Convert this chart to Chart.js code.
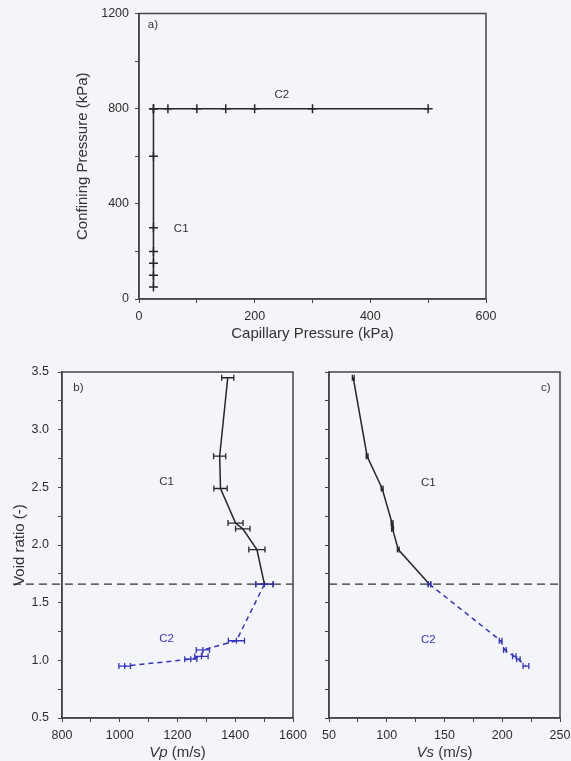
<!DOCTYPE html>
<html>
<head>
<meta charset="utf-8">
<script src="https://cdn.jsdelivr.net/npm/chart.js@4/dist/chart.umd.min.js"></script>
<style>
  html, body { margin: 0; padding: 0; background: #f3f5f9; }
  body { width: 571px; height: 761px; position: relative; overflow: hidden; }
  canvas { position: absolute; }
</style>
</head>
<body>
<canvas id="panelA" width="571" height="345" style="left:0;top:0"></canvas>
<canvas id="panelB" width="330" height="416" style="left:0;top:345px"></canvas>
<canvas id="panelC" width="300" height="416" style="left:300px;top:345px"></canvas>
<script>
// a) stress path: capillary vs confining pressure (kPa)
const capC1 = [25, 25, 25, 25, 25, 25, 25];
const confC1 = [50, 100, 150, 200, 300, 600, 800];
const capC2 = [25, 50, 100, 150, 200, 300, 500];
const confC2 = [800, 800, 800, 800, 800, 800, 800];

// b) and c) void ratio at each stage
const voidC1 = [3.45, 2.77, 2.49, 2.19, 2.14, 1.96, 1.66];
const voidC2 = [1.66, 1.17, 1.09, 1.035, 1.01, 0.95];
const voidLimit = 1.66;

// P-wave velocity (m/s) and its spread
const vpC1 = [1374, 1346, 1349, 1401, 1426, 1475, 1501];
const vpErrC1 = [21, 21, 23, 26, 25, 28, 30];
const vpC2 = [1501, 1404, 1288, 1283, 1246, 1017];
const vpErrC2 = [30, 28, 23, 23, 21, 20];

// S-wave velocity (m/s) and its spread
const vsC1 = [71, 83, 96, 104.6, 105, 110, 137];
const vsErrC1 = [0.8, 0.8, 0.8, 0.8, 0.8, 0.8, 1];
const vsC2 = [137, 198.6, 202.3, 210.4, 214, 220.5];
const vsErrC2 = [1.2, 1.2, 1.2, 1.5, 1.5, 2.5];

// labelled ticks
const capTicks = [0, 200, 400, 600];
const confTicks = [0, 400, 800, 1200];
const vpTicks = [800, 1000, 1200, 1400, 1600];
const vsTicks = [50, 100, 150, 200, 250];
const voidTicks = [0.5, 1.0, 1.5, 2.0, 2.5, 3.0, 3.5];

const BLACK = '#262626';
const BLUE = '#3434c4';
const AXIS = '#454545';
const FONT = 'Liberation Sans, Arial, sans-serif';

function pts(xs, ys) {
  return xs.map((v, i) => ({ x: v, y: ys[i] }));
}

// axis with minor ticks (unlabelled) and a fixed box size
function axis(min, max, step, labels, size, extra) {
  const isY = extra.y;
  const cfg = {
    type: 'linear',
    min: min, max: max,
    grid: { drawOnChartArea: false, drawTicks: true, tickLength: 4, color: AXIS, lineWidth: 1 },
    border: { display: true, color: AXIS, width: 1.5 },
    ticks: {
      stepSize: step,
      autoSkip: false,
      maxRotation: 0,
      padding: extra.pad,
      color: '#2e2e2e',
      font: { family: FONT, size: 12.5 },
      display: extra.showLabels !== false,
      callback: function (v) {
        const hit = labels.some(t => Math.abs(t - v) < 1e-9);
        if (!hit) return '';
        return extra.fixed ? v.toFixed(1) : String(v);
      }
    },
    afterFit: function (scale) {
      if (isY) scale.width = size; else scale.height = size;
    }
  };
  if (extra.title) {
    cfg.title = {
      display: true,
      text: extra.title,
      color: '#333',
      font: { family: FONT, size: 15 },
      padding: extra.titlePad
    };
  }
  return cfg;
}

// frame, error bars, panel notes and mixed-style titles
const extras = {
  id: 'extras',
  afterDatasetsDraw(chart, args, opts) {
    const { ctx, chartArea: a } = chart;
    const x = chart.scales.x, y = chart.scales.y;

    chart.data.datasets.forEach(ds => {
      if (!ds.xErr) return;
      ctx.save();
      ctx.strokeStyle = ds.borderColor;
      ctx.lineWidth = 1.3;
      ctx.setLineDash([]);
      ds.data.forEach((p, i) => {
        const e = ds.xErr[i];
        if (!e) return;
        const py = y.getPixelForValue(p.y);
        const x0 = x.getPixelForValue(p.x - e);
        const x1 = x.getPixelForValue(p.x + e);
        ctx.beginPath();
        ctx.moveTo(x0, py); ctx.lineTo(x1, py);
        ctx.moveTo(x0, py - 3); ctx.lineTo(x0, py + 3);
        ctx.moveTo(x1, py - 3); ctx.lineTo(x1, py + 3);
        ctx.stroke();
      });
      ctx.restore();
    });

    ctx.save();
    ctx.strokeStyle = AXIS;
    ctx.lineWidth = 1.5;
    ctx.strokeRect(a.left, a.top, a.right - a.left, a.bottom - a.top);
    ctx.restore();

    ctx.save();
    ctx.textAlign = 'center';
    ctx.textBaseline = 'middle';
    ctx.font = '11.5px ' + FONT;
    (opts.notes || []).forEach(n => {
      ctx.fillStyle = n.color || '#333';
      ctx.fillText(n.text, x.getPixelForValue(n.x), y.getPixelForValue(n.y));
    });
    if (opts.xTitle) {
      const italic = 'italic 15px ' + FONT, plain = '15px ' + FONT;
      ctx.font = italic;
      const w1 = ctx.measureText(opts.xTitle[0]).width;
      ctx.font = plain;
      const w2 = ctx.measureText(opts.xTitle[1]).width;
      const cx = (a.left + a.right) / 2;
      let sx = cx - (w1 + w2) / 2;
      ctx.textAlign = 'left';
      ctx.fillStyle = '#333';
      ctx.font = italic;
      ctx.fillText(opts.xTitle[0], sx, opts.xTitleY);
      ctx.font = plain;
      ctx.fillText(opts.xTitle[1], sx + w1, opts.xTitleY);
    }
    ctx.restore();
  }
};
Chart.register(extras);

const common = {
  responsive: false,
  animation: false,
  events: [],
  plugins: { legend: { display: false }, tooltip: { enabled: false } }
};

// ---- a) ----
new Chart(document.getElementById('panelA'), {
  type: 'scatter',
  data: {
    datasets: [
      { data: pts(capC1, confC1), showLine: true, borderColor: BLACK, borderWidth: 1.5,
        pointStyle: 'cross', pointRadius: 4.5, pointBorderWidth: 1.5, pointBorderColor: BLACK },
      { data: pts(capC2, confC2), showLine: true, borderColor: BLACK, borderWidth: 1.5,
        pointStyle: 'cross', pointRadius: 4.5, pointBorderWidth: 1.5, pointBorderColor: BLACK }
    ]
  },
  options: Object.assign({}, common, {
    layout: { padding: { left: 68, top: 12, right: 85, bottom: 0 } },
    scales: {
      x: axis(0, 600, 100, capTicks, 46, { pad: 6, title: 'Capillary Pressure (kPa)', titlePad: { top: 0, bottom: 2 } }),
      y: axis(0, 1200, 200, confTicks, 71, { y: true, pad: 6, title: 'Confining Pressure (kPa)', titlePad: { top: 6, bottom: 0 } })
    },
    plugins: Object.assign({}, common.plugins, {
      extras: { notes: [
        { text: 'a)', x: 24, y: 1151 },
        { text: 'C2', x: 247, y: 857 },
        { text: 'C1', x: 73, y: 297 }
      ] }
    })
  })
});

// ---- b) ----
new Chart(document.getElementById('panelB'), {
  type: 'scatter',
  data: {
    datasets: [
      { data: [{ x: 630, y: voidLimit }, { x: 1600, y: voidLimit }], showLine: true, clip: false,
        borderColor: '#333', borderWidth: 1.3, borderDash: [8, 5], pointRadius: 0 },
      { data: pts(vpC1, voidC1), xErr: vpErrC1, showLine: true, borderColor: BLACK, borderWidth: 1.5, pointRadius: 0 },
      { data: pts(vpC2, voidC2), xErr: vpErrC2, showLine: true, borderColor: BLUE, borderWidth: 1.5,
        borderDash: [5, 4], pointStyle: 'line', rotation: 90, pointRadius: 3, pointBorderWidth: 1.3, pointBorderColor: BLUE }
    ]
  },
  options: Object.assign({}, common, {
    layout: { padding: { left: 0, top: 27, right: 37, bottom: 0 } },
    scales: {
      x: axis(800, 1600, 100, vpTicks, 43, { pad: 6 }),
      y: axis(0.5, 3.5, 0.25, voidTicks, 62, { y: true, pad: 9, fixed: true, title: 'Void ratio (-)', titlePad: { top: 11, bottom: 0 } })
    },
    plugins: Object.assign({}, common.plugins, {
      extras: {
        notes: [
          { text: 'b)', x: 857, y: 3.36 },
          { text: 'C1', x: 1162, y: 2.55 },
          { text: 'C2', x: 1162, y: 1.19, color: BLUE }
        ],
        xTitle: ['Vp', ' (m/s)'],
        xTitleY: 408
      }
    })
  })
});

// ---- c) ----
new Chart(document.getElementById('panelC'), {
  type: 'scatter',
  data: {
    datasets: [
      { data: [{ x: 50, y: voidLimit }, { x: 250, y: voidLimit }], showLine: true,
        borderColor: '#333', borderWidth: 1.3, borderDash: [8, 5], pointRadius: 0 },
      { data: pts(vsC1, voidC1), xErr: vsErrC1, showLine: true, borderColor: BLACK, borderWidth: 1.5, pointRadius: 0 },
      { data: pts(vsC2, voidC2), xErr: vsErrC2, showLine: true, borderColor: BLUE, borderWidth: 1.5,
        borderDash: [5, 4], pointRadius: 0 }
    ]
  },
  options: Object.assign({}, common, {
    layout: { padding: { left: 0, top: 27, right: 40, bottom: 0 } },
    scales: {
      x: axis(50, 250, 25, vsTicks, 43, { pad: 6 }),
      y: axis(0.5, 3.5, 0.25, voidTicks, 29, { y: true, pad: 9, showLabels: false })
    },
    plugins: Object.assign({}, common.plugins, {
      extras: {
        notes: [
          { text: 'c)', x: 237.7, y: 3.36 },
          { text: 'C1', x: 136, y: 2.54 },
          { text: 'C2', x: 136, y: 1.18, color: BLUE }
        ],
        xTitle: ['Vs', ' (m/s)'],
        xTitleY: 408
      }
    })
  })
});
</script>
</body>
</html>
